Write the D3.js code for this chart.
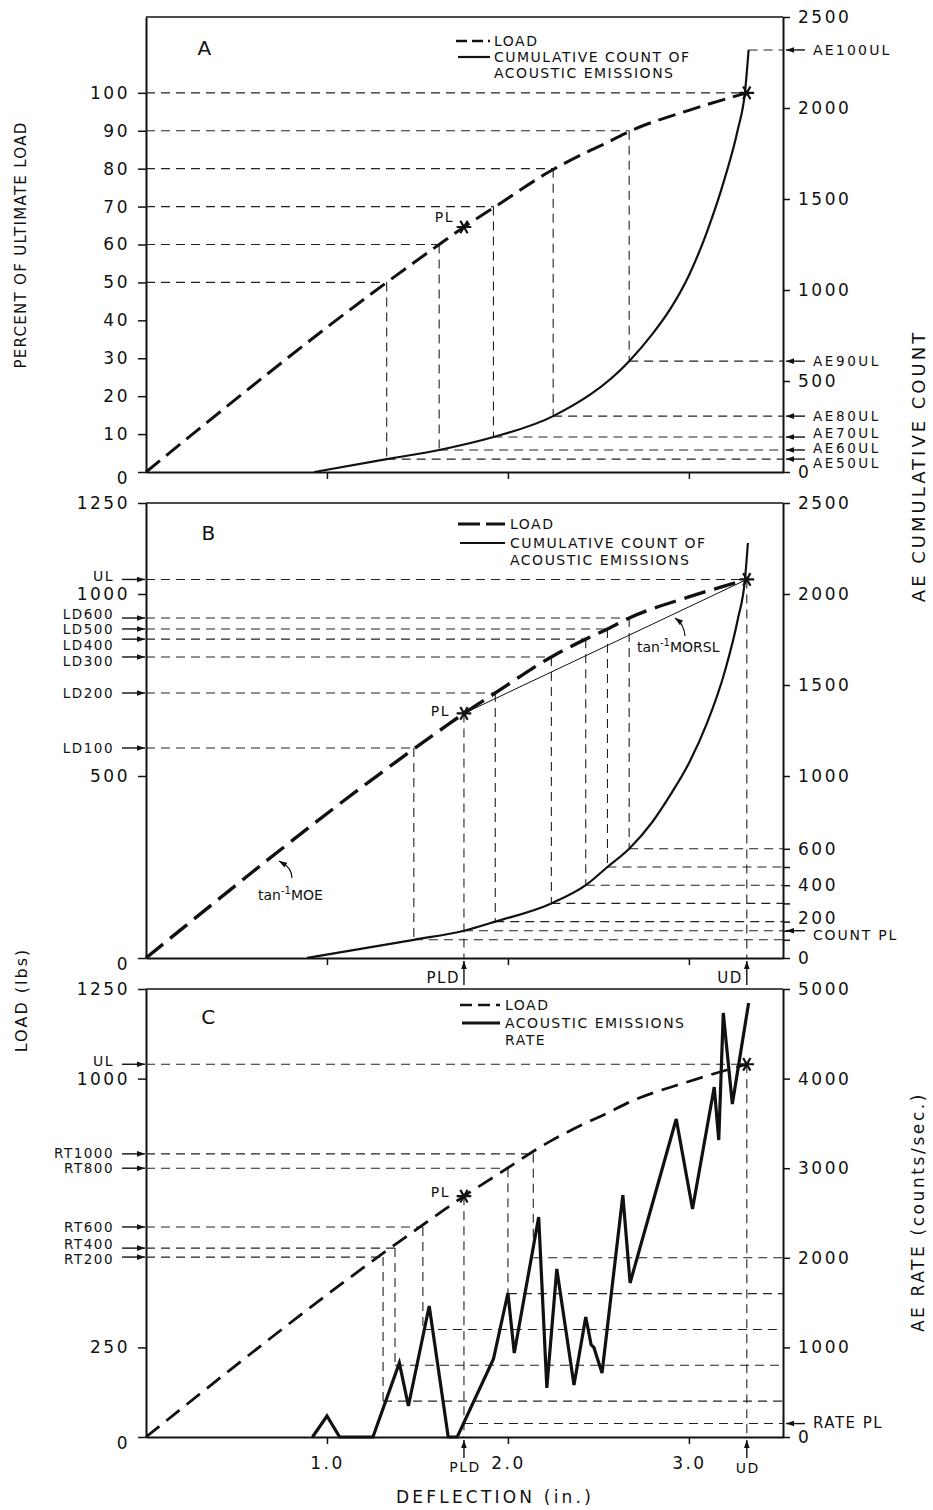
<!DOCTYPE html>
<html>
<head>
<meta charset="utf-8">
<script src="https://cdn.jsdelivr.net/npm/d3@7"></script>
<style>
  body { margin: 0; background: #fff; }
  text { font-family: "DejaVu Sans", sans-serif; fill: #111; }
</style>
</head>
<body>
<svg id="chart" width="933" height="1510"></svg>
<script>
// ---- data ----
// load curve (deflection in., load lbs), same specimen in all 3 panels
const loadDefl = [0, 1.33, 1.62, 1.757, 1.93, 2.24, 2.43, 2.55, 2.67, 3.0, 3.32];
const loadLbs  = [0, 520, 624, 672, 728, 827, 876, 904, 934, 992, 1040];
const ultLoad = 1040;
const plDefl = 1.757, plLoad = 672;
const udDefl = 3.32;

// panel A: cumulative AE count
const countADefl = [0.93, 1.33, 1.62, 1.92, 2.25, 2.67, 2.8, 2.9, 3.0, 3.1, 3.2, 3.27, 3.31, 3.33];
const countA     = [0, 71, 121, 192, 307, 609, 760, 900, 1080, 1320, 1620, 1880, 2089, 2319];
const aPct    = [50, 60, 70, 80, 90];
const aDefl   = [1.33, 1.62, 1.92, 2.25, 2.67];
const aCount  = [71, 121, 192, 307, 609];
const aLabels = ["AE50UL", "AE60UL", "AE70UL", "AE80UL", "AE90UL"];
const ae100Count = 2319, ae100Defl = 3.33;

// panel B: cumulative AE count, load at count levels
const countBDefl = [0.89, 1.48, 1.757, 1.93, 2.24, 2.43, 2.55, 2.67, 2.8, 2.9, 3.0, 3.1, 3.2, 3.27, 3.31, 3.326];
const countB     = [0, 100, 150, 200, 300, 400, 500, 600, 750, 900, 1070, 1290, 1580, 1860, 2082, 2280];
const bCount  = [100, 200, 300, 400, 500, 600];
const bDefl   = [1.48, 1.93, 2.24, 2.43, 2.55, 2.67];
const bLoad   = [577, 728, 827, 876, 904, 934];
const bLabels = ["LD100", "LD200", "LD300", "LD400", "LD500", "LD600"];
const countPL = 150;

// panel C: AE rate
const rateDefl = [0.92, 1.0, 1.07, 1.254, 1.40, 1.45, 1.565, 1.67, 1.72, 1.92, 2.0, 2.035, 2.17, 2.215, 2.27, 2.365, 2.43, 2.46, 2.475, 2.52, 2.635, 2.675, 2.93, 3.02, 3.14, 3.165, 3.19, 3.24, 3.33];
const rate     = [0, 234, 0, 0, 826, 346, 1462, 0, 0, 870, 1607, 937, 2455, 547, 1875, 580, 1339, 1027, 1000, 714, 2700, 1719, 3549, 2544, 3906, 3314, 4732, 3716, 4844];
const cRate   = [400, 800, 1200, 1600, 2000];
const cDefl   = [1.31, 1.376, 1.53, 2.0, 2.14];
const cLoad   = [502, 527, 586, 750, 790];
const cLabels = ["RT200", "RT400", "RT600", "RT800", "RT1000"];
const ratePL = 150;

// tick values
const xTicks = [1, 2, 3];
const aLeftTicks = [0, 10, 20, 30, 40, 50, 60, 70, 80, 90, 100];
const aRightTicks = [0, 500, 1000, 1500, 2000, 2500];
const bLeftTicks = [0, 500, 1000, 1250];
const bRightTicks = [0, 200, 400, 600, 1000, 1500, 2000, 2500];
const cLeftTicks = [0, 250, 1000, 1250];
const cRightTicks = [0, 1000, 2000, 3000, 4000, 5000];

// ---- drawing ----
const svg = d3.select("#chart");
const ink = "#111";

const x = d3.scaleLinear().domain([0, 3.52]).range([146, 783]);
const yA  = d3.scaleLinear().domain([0, 120]).range([472, 17]);
const yAr = d3.scaleLinear().domain([0, 2500]).range([472, 17]);
const yB  = d3.scaleLinear().domain([0, 1250]).range([958, 503]);
const yBr = d3.scaleLinear().domain([0, 2500]).range([958, 503]);
const yC  = d3.scaleLinear().domain([0, 1250]).range([1437, 989]);
const yCr = d3.scaleLinear().domain([0, 5000]).range([1437, 989]);

function refLine(x1, y1, x2, y2) {
  svg.append("line")
    .attr("x1", x1).attr("y1", y1).attr("x2", x2).attr("y2", y2)
    .attr("stroke", "#222").attr("stroke-width", 1.1)
    .attr("stroke-dasharray", "9,6");
}

function arrow(x1, y1, x2, y2, w) {
  svg.append("line")
    .attr("x1", x1).attr("y1", y1).attr("x2", x2).attr("y2", y2)
    .attr("stroke", ink).attr("stroke-width", w || 1.4);
  const a = Math.atan2(y2 - y1, x2 - x1), L = 8, H = 2.8;
  const p = [
    [x2, y2],
    [x2 - L * Math.cos(a) + H * Math.sin(a), y2 - L * Math.sin(a) - H * Math.cos(a)],
    [x2 - L * Math.cos(a) - H * Math.sin(a), y2 - L * Math.sin(a) + H * Math.cos(a)]
  ];
  svg.append("path").attr("d", "M" + p.join("L") + "Z").attr("fill", ink);
}

function label(tx, ty, str, size, anchor, spacing) {
  return svg.append("text")
    .attr("x", tx).attr("y", ty)
    .attr("dominant-baseline", "central")
    .attr("text-anchor", anchor || "start")
    .attr("font-size", size || 15)
    .attr("letter-spacing", spacing == null ? 1.5 : spacing)
    .text(str);
}

function star(cx, cy) {
  svg.append("path")
    .attr("d", d3.symbol(d3.symbolAsterisk, 150)())
    .attr("transform", `translate(${cx},${cy}) rotate(90)`)
    .attr("fill", "none").attr("stroke", ink).attr("stroke-width", 2.2);
}

function styleAxis(g) {
  g.select(".domain").attr("stroke", ink).attr("stroke-width", 2);
  g.selectAll(".tick line").attr("stroke", ink).attr("stroke-width", 1.5);
  g.selectAll(".tick text").attr("font-size", 17).attr("letter-spacing", 2.5)
    .attr("font-family", "DejaVu Sans").attr("fill", ink);
}

function frame(yl, yr, leftTicks, rightTicks, xLabels) {
  const top = yl.range()[1], bottom = yl.range()[0];
  svg.append("line")
    .attr("x1", x.range()[0]).attr("x2", x.range()[1])
    .attr("y1", top).attr("y2", top)
    .attr("stroke", ink).attr("stroke-width", 1.6);
  const gl = svg.append("g").attr("transform", `translate(${x(0)},0)`)
    .call(d3.axisLeft(yl).tickValues(leftTicks).tickSize(8).tickSizeOuter(0).tickPadding(8)
      .tickFormat(d3.format("d")));
  styleAxis(gl);
  const gr = svg.append("g").attr("transform", `translate(${x.range()[1]},0)`)
    .call(d3.axisRight(yr).tickValues(rightTicks).tickSize(7).tickSizeOuter(0).tickPadding(8)
      .tickFormat(d3.format("d")));
  styleAxis(gr);
  const gb = svg.append("g").attr("transform", `translate(0,${bottom})`)
    .call(d3.axisBottom(x).tickValues(xTicks).tickSize(7).tickSizeOuter(0).tickPadding(13)
      .tickFormat(xLabels ? d3.format(".1f") : ""));
  styleAxis(gb);
  gl.selectAll(".tick text").filter(d => d === 0).attr("dy", "0.7em");
  return gr;
}

const loadLine = y => d3.line().x((d, i) => x(loadDefl[i])).y(d => y(d)).curve(d3.curveMonotoneX);

// ===== Panel A =====
frame(yA, yAr, aLeftTicks, aRightTicks, false);
aPct.forEach((p, i) => {
  refLine(x(0), yA(p), x(aDefl[i]), yA(p));
  refLine(x(aDefl[i]), yA(p), x(aDefl[i]), yAr(aCount[i]));
  refLine(x(aDefl[i]), yAr(aCount[i]), x.range()[1], yAr(aCount[i]));
});
refLine(x(0), yA(100), x(udDefl), yA(100));
refLine(x(ae100Defl), yAr(ae100Count), x.range()[1], yAr(ae100Count));
svg.append("path")
  .attr("d", loadLine(yA)(loadLbs.map(v => v / ultLoad * 100)))
  .attr("fill", "none").attr("stroke", ink).attr("stroke-width", 3).attr("stroke-dasharray", "18,8");
svg.append("path")
  .attr("d", d3.line().x((d, i) => x(countADefl[i])).y(d => yAr(d)).curve(d3.curveMonotoneX)(countA))
  .attr("fill", "none").attr("stroke", ink).attr("stroke-width", 2.2);
star(x(plDefl), yA(plLoad / ultLoad * 100));
star(x(udDefl), yA(100));
label(x(plDefl) - 10, yA(plLoad / ultLoad * 100) - 10, "PL", 14, "end");
label(205, 48, "A", 20, "middle");
// right arrows
const aNudge = [4, -2, -4, 0, 0];
aLabels.forEach((s, i) => {
  arrow(805, yAr(aCount[i]), 786, yAr(aCount[i]));
  label(813, yAr(aCount[i]) + aNudge[i], s, 13.5, "start", 2.6);
});
arrow(805, yAr(ae100Count), 786, yAr(ae100Count));
label(813, yAr(ae100Count), "AE100UL", 14, "start", 2.2);
// legend
svg.append("line").attr("x1", 456).attr("x2", 490).attr("y1", 41).attr("y2", 41)
  .attr("stroke", ink).attr("stroke-width", 2.5).attr("stroke-dasharray", "11,5");
label(494, 41, "LOAD", 14);
svg.append("line").attr("x1", 458).attr("x2", 490).attr("y1", 57).attr("y2", 57)
  .attr("stroke", ink).attr("stroke-width", 2.2);
label(494, 57, "CUMULATIVE COUNT OF", 14);
label(494, 73, "ACOUSTIC EMISSIONS", 14);

// ===== Panel B =====
const grB = frame(yB, yBr, bLeftTicks, bRightTicks, false);
grB.selectAll(".tick text").filter(d => d === 200).attr("dy", "0.1em");
svg.append("g").attr("transform", `translate(${x.range()[1]},0)`)
  .call(d3.axisRight(yBr).tickValues([100, countPL, 300, 500]).tickSize(7).tickFormat(""))
  .call(g => { g.select(".domain").remove(); g.selectAll("line").attr("stroke", ink).attr("stroke-width", 1.5); });
bLabels.forEach((s, i) => {
  refLine(x(0), yB(bLoad[i]), x(bDefl[i]), yB(bLoad[i]));
  refLine(x(bDefl[i]), yB(bLoad[i]), x(bDefl[i]), yBr(bCount[i]));
  refLine(x(bDefl[i]), yBr(bCount[i]), x.range()[1], yBr(bCount[i]));
});
refLine(x(0), yB(ultLoad), x(udDefl), yB(ultLoad));
refLine(x(plDefl), yB(plLoad), x(plDefl), yB(0));
refLine(x(plDefl), yBr(countPL), x.range()[1], yBr(countPL));
refLine(x(udDefl), yB(ultLoad), x(udDefl), yB(0));
// MORSL secant
svg.append("line")
  .attr("x1", x(plDefl)).attr("y1", yB(plLoad)).attr("x2", x(udDefl)).attr("y2", yB(ultLoad))
  .attr("stroke", ink).attr("stroke-width", 1);
svg.append("path")
  .attr("d", loadLine(yB)(loadLbs))
  .attr("fill", "none").attr("stroke", ink).attr("stroke-width", 3.4).attr("stroke-dasharray", "22,9");
svg.append("path")
  .attr("d", d3.line().x((d, i) => x(countBDefl[i])).y(d => yBr(d)).curve(d3.curveMonotoneX)(countB))
  .attr("fill", "none").attr("stroke", ink).attr("stroke-width", 2.2);
star(x(plDefl), yB(plLoad));
star(x(udDefl), yB(ultLoad));
label(x(plDefl) - 14, yB(plLoad) - 2, "PL", 14, "end");
label(209, 533, "B", 20, "middle");
const bNudge = [0, 0, 4, 6, 0, -4];
bLabels.forEach((s, i) => {
  arrow(122, yB(bLoad[i]), 145, yB(bLoad[i]));
  label(114, yB(bLoad[i]) + bNudge[i], s, 13.5, "end");
});
arrow(122, yB(ultLoad), 145, yB(ultLoad));
label(114, yB(ultLoad) - 3, "UL", 14, "end");
arrow(805, yBr(countPL), 786, yBr(countPL));
label(813, yBr(countPL) + 4, "COUNT PL", 14, "start", 1.8);
arrow(x(plDefl), 985, x(plDefl), 961);
label(x(plDefl) - 4, 978, "PLD", 15, "end");
arrow(x(udDefl), 985, x(udDefl), 961);
label(x(udDefl) - 4, 978, "UD", 15, "end");
// tan^-1 annotations
const moe = svg.append("text").attr("x", 258).attr("y", 900).attr("font-size", 14);
moe.append("tspan").text("tan");
moe.append("tspan").attr("dy", -6).attr("font-size", 10).text("-1");
moe.append("tspan").attr("dy", 6).text("MOE");
svg.append("path").attr("d", "M292,878 Q292,868 281,862").attr("fill", "none").attr("stroke", ink).attr("stroke-width", 1.2);
arrow(284, 864, 279, 861, 1.2);
const morsl = svg.append("text").attr("x", 637).attr("y", 652).attr("font-size", 14);
morsl.append("tspan").text("tan");
morsl.append("tspan").attr("dy", -6).attr("font-size", 10).text("-1");
morsl.append("tspan").attr("dy", 6).text("MORSL");
svg.append("path").attr("d", "M685,636 Q684,624 676,619").attr("fill", "none").attr("stroke", ink).attr("stroke-width", 1.2);
arrow(679, 621, 675, 618, 1.2);
// legend
svg.append("line").attr("x1", 458).attr("x2", 505).attr("y1", 524).attr("y2", 524)
  .attr("stroke", ink).attr("stroke-width", 3).attr("stroke-dasharray", "22,6");
label(510, 524, "LOAD", 14);
svg.append("line").attr("x1", 460).attr("x2", 505).attr("y1", 543).attr("y2", 543)
  .attr("stroke", ink).attr("stroke-width", 2);
label(510, 543, "CUMULATIVE COUNT OF", 14);
label(510, 560, "ACOUSTIC EMISSIONS", 14);

// ===== Panel C =====
frame(yC, yCr, cLeftTicks, cRightTicks, true);
cLabels.forEach((s, i) => {
  refLine(x(0), yC(cLoad[i]), x(cDefl[i]), yC(cLoad[i]));
  refLine(x(cDefl[i]), yC(cLoad[i]), x(cDefl[i]), yCr(cRate[i]));
  refLine(x(cDefl[i]), yCr(cRate[i]), x.range()[1], yCr(cRate[i]));
});
refLine(x(0), yC(ultLoad), x(udDefl), yC(ultLoad));
refLine(x(plDefl), yC(plLoad), x(plDefl), yC(0));
refLine(x(plDefl), yCr(ratePL), x.range()[1], yCr(ratePL));
refLine(x(udDefl), yC(ultLoad), x(udDefl), yC(0));
svg.append("path")
  .attr("d", loadLine(yC)(loadLbs))
  .attr("fill", "none").attr("stroke", ink).attr("stroke-width", 2.8).attr("stroke-dasharray", "17,9");
svg.append("path")
  .attr("d", d3.line().x((d, i) => x(rateDefl[i])).y(d => yCr(d))(rate))
  .attr("fill", "none").attr("stroke", ink).attr("stroke-width", 3.2).attr("stroke-linejoin", "miter");
star(x(plDefl), yC(plLoad));
star(x(udDefl), yC(ultLoad));
label(x(plDefl) - 14, yC(plLoad) - 4, "PL", 14, "end");
label(209, 1017, "C", 20, "middle");
const cNudge = [2, -4, 0, 0, -1];
cLabels.forEach((s, i) => {
  arrow(122, yC(cLoad[i]), 145, yC(cLoad[i]));
  label(114, yC(cLoad[i]) + cNudge[i], s, 13.5, "end");
});
arrow(122, yC(ultLoad), 145, yC(ultLoad));
label(114, yC(ultLoad) - 3, "UL", 14, "end");
arrow(805, yCr(ratePL), 786, yCr(ratePL));
label(813, yCr(ratePL) - 1, "RATE PL", 15);
arrow(x(plDefl), 1458, x(plDefl), 1440);
label(x(plDefl) + 1, 1467, "PLD", 14, "middle");
arrow(x(udDefl), 1458, x(udDefl), 1440);
label(x(udDefl) + 1, 1468, "UD", 14, "middle");
// legend
svg.append("line").attr("x1", 460).attr("x2", 500).attr("y1", 1005).attr("y2", 1005)
  .attr("stroke", ink).attr("stroke-width", 2.5).attr("stroke-dasharray", "12,6");
label(505, 1005, "LOAD", 14);
svg.append("line").attr("x1", 462).attr("x2", 500).attr("y1", 1023).attr("y2", 1023)
  .attr("stroke", ink).attr("stroke-width", 3);
label(505, 1023, "ACOUSTIC EMISSIONS", 14);
label(505, 1040, "RATE", 14);

// ===== axis titles =====
function title(tx, ty, rot, str, size, spacing) {
  svg.append("text").attr("transform", `translate(${tx},${ty}) rotate(${rot})`)
    .attr("text-anchor", "middle").attr("dominant-baseline", "central")
    .attr("font-size", size).attr("letter-spacing", spacing).text(str);
}
title(21, 245, -90, "PERCENT OF ULTIMATE LOAD", 15, 1.3);
title(21, 1000, -90, "LOAD (lbs)", 16, 2);
title(918, 466, -90, "AE CUMULATIVE COUNT", 18, 3);
title(918, 1212, -90, "AE RATE (counts/sec.)", 17, 2.6);
title(495, 1497, 0, "DEFLECTION (in.)", 17, 3.2);
</script>
</body>
</html>
